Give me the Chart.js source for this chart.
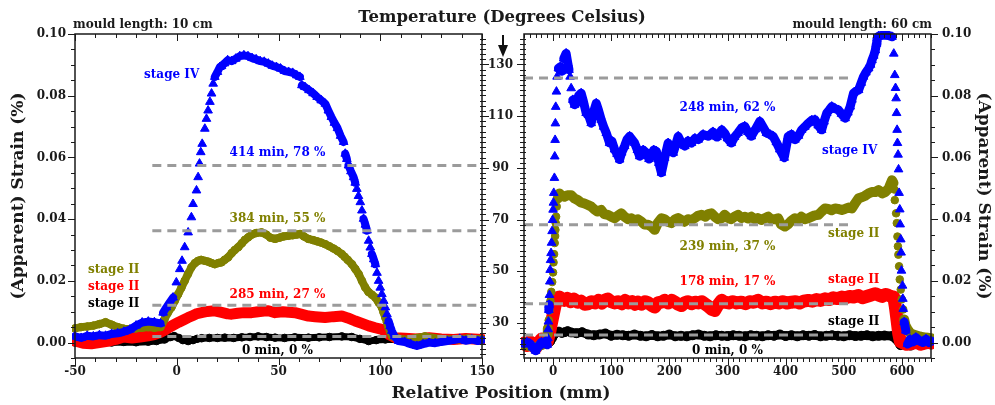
<!DOCTYPE html>
<html>
<head>
<meta charset="utf-8">
<script src="https://cdn.jsdelivr.net/npm/chart.js@4/dist/chart.umd.min.js"></script>
<style>
  body { margin: 0; background: #fff; }
  #wrap { position: relative; width: 995px; height: 405px; overflow: hidden; }
  canvas { position: absolute; top: 0; }
  .t { position: absolute; font-family: "DejaVu Serif", serif; font-weight: bold; color: #1a1a1a; white-space: nowrap; line-height: 1; }
</style>
</head>
<body>
<div id="wrap">
  <canvas id="left" width="524" height="405" style="left:0"></canvas>
  <canvas id="right" width="483" height="405" style="left:512px"></canvas>
  <div class="t" style="left:73px;top:24px;font-size:12px;transform:translateY(-50%)">mould length: 10 cm</div>
  <div class="t" style="left:932px;top:24px;font-size:12px;transform:translate(-100%,-50%)">mould length: 60 cm</div>
  <div class="t" style="left:502px;top:17px;font-size:16.5px;transform:translate(-50%,-50%)">Temperature (Degrees Celsius)</div>
  <div class="t" style="left:501px;top:392px;font-size:17px;transform:translate(-50%,-50%)">Relative Position (mm)</div>
  <div style="position:absolute;left:502px;top:35px;width:2px;height:11px;background:#111"></div>
  <div style="position:absolute;left:497.5px;top:45px;width:0;height:0;border-left:5.5px solid transparent;border-right:5.5px solid transparent;border-top:12px solid #111"></div>
</div>
<script>
// ---- left panel: mould 10 cm, position (mm) vs apparent strain (%)
const leftBlueX = [
  -50,-47,-44,-41,-38,-35,-32,-29,-26,-23,
  -20,-17,-14,-11,-8,-6.7,-5.1,-3.5,-1.8,-0.2,
  1.5,2.6,3.9,5.6,7.2,8.0,9.7,10.5,11.2,11.8,
  12.5,13.8,14.6,15.4,16.3,17.1,17.9,18.7,20.0,21.2,
  22.0,23.5,25,27,29,31,33,35,37,39,
  41,43,45,47,49,51,53,55,57,59,
  60.5,61.5,63,65,67,69,71,73,74.5,76,
  77.5,79,80.5,82,82.8,83.6,84.4,85.6,86.9,87.7,
  88.5,89.3,90.2,91.0,91.8,92.7,93.5,94.3,95.1,95.9,
  96.8,97.6,98.4,99.2,100.0,100.8,101.7,102.5,103.3,104.1,
  104.9,105.7,107,109,112,115,118,121,124,127,
  130,133,136,139,142,145,148,150];
const leftBlueY = [
  0.0020,0.0015,0.0022,0.0020,0.0024,0.0022,0.0028,0.0030,0.0035,0.0042,
  0.0055,0.0065,0.0068,0.0066,0.0062,0.0097,0.0114,0.0130,0.0146,0.0195,
  0.0238,0.0265,0.0309,0.0357,0.0406,0.0449,0.0493,0.0536,0.0580,0.0617,
  0.0644,0.0693,0.0725,0.0752,0.0780,0.0807,0.0839,0.0861,0.0877,0.0893,
  0.0896,0.0905,0.0915,0.0912,0.0920,0.0928,0.0931,0.0928,0.0922,0.0918,
  0.0912,0.0910,0.0904,0.0897,0.0893,0.0888,0.0880,0.0877,0.0874,0.0866,
  0.0861,0.0834,0.0828,0.0818,0.0808,0.0796,0.0785,0.0774,0.0752,0.0731,
  0.0712,0.0695,0.0670,0.0650,0.0612,0.0595,0.0574,0.0555,0.0536,0.0518,
  0.0498,0.0475,0.0455,0.0428,0.0401,0.0382,0.0363,0.0330,0.0308,0.0287,
  0.0270,0.0254,0.0226,0.0200,0.0178,0.0157,0.0135,0.0114,0.0092,0.0070,
  0.0053,0.0038,0.0020,0.0005,0.0002,-0.0005,-0.0011,-0.0005,0.0000,-0.0002,
  0.0002,0.0005,0.0008,0.0012,0.0006,0.0010,0.0005,0.0008];

const leftOliveX = [
  -50,-47,-44,-41,-38,-35,-32,-29,-26,-23,
  -20,-17,-14,-11,-8,-6,-4.5,-2.6,-1,0.7,
  2.3,3.9,5.5,7.2,9,10.5,12,13.8,15.5,17,
  18.7,20.5,22,23.5,25.2,27,28.5,30.2,32,33.5,
  35.1,37,39,41.7,44,46,48.3,50.5,52.5,54.8,
  57,59,60.6,62.5,64.7,67,69,71,72.9,75,
  77,79,81.1,82.5,84,86.1,87.8,89.4,91,92.6,
  94.2,95.9,97.6,99.2,100.8,101.6,102.5,103.3,104.1,104.9,
  105.7,108,111,114,118,122,126,130,134,138.7,
  143,148.4,150];
const leftOliveY = [
  0.0046,0.0050,0.0052,0.0055,0.0060,0.0066,0.0058,0.0050,0.0045,0.0044,
  0.0046,0.0048,0.0050,0.0048,0.0050,0.0076,0.0095,0.0114,0.0135,0.0157,
  0.0178,0.0200,0.0222,0.0244,0.0258,0.0265,0.0268,0.0265,0.0262,0.0258,
  0.0254,0.0258,0.0260,0.0268,0.0276,0.0290,0.0300,0.0309,0.0322,0.0333,
  0.0341,0.0350,0.0355,0.0357,0.0350,0.0340,0.0336,0.0340,0.0344,0.0346,
  0.0348,0.0350,0.0352,0.0344,0.0336,0.0332,0.0328,0.0324,0.0319,0.0312,
  0.0305,0.0297,0.0287,0.0278,0.0268,0.0254,0.0238,0.0222,0.0200,0.0179,
  0.0164,0.0155,0.0146,0.0130,0.0114,0.0098,0.0081,0.0065,0.0049,0.0035,
  0.0021,0.0015,0.0010,0.0011,0.0015,0.0020,0.0015,0.0012,0.0010,0.0011,
  0.0013,0.0011,0.0010];

const leftRedX = [
  -50,-46,-42,-38,-34,-30,-26,-22,-18,-14,
  -11,-8,-6,-3.5,-1.3,1,3.5,5.6,8,10,
  12.2,15,18.7,22,25,27,30,33,36.8,40,
  43,45,48.3,52,55,58.1,61,64.7,68,72.9,
  77,81.1,84,87.7,91,94.3,97.5,100.8,102.5,104.1,
  107.4,112,118,124,130,136,142,148,150];
const leftRedY = [
  0.0005,-0.0002,-0.0004,0.0000,0.0004,0.0010,0.0018,0.0015,0.0018,0.0022,
  0.0026,0.0033,0.0040,0.0050,0.0058,0.0066,0.0074,0.0081,0.0088,0.0094,
  0.0097,0.0101,0.0103,0.0098,0.0093,0.0092,0.0095,0.0097,0.0097,0.0100,
  0.0102,0.0103,0.0097,0.0100,0.0098,0.0097,0.0092,0.0086,0.0084,0.0081,
  0.0084,0.0086,0.0080,0.0070,0.0062,0.0054,0.0048,0.0043,0.0035,0.0027,
  0.0016,0.0014,0.0012,0.0016,0.0012,0.0010,0.0013,0.0011,0.0010];

const leftBlackX = [
  -50,-44,-38,-32,-26,-20,-14,-10,-6,-3,
  -1.3,1,3,5.6,8,10,12.2,16,20,23.6,
  28,32,36,40,44,48.3,53,58,64.7,70,
  75,81.1,86,90,94.3,98,102.5,108,114,120,
  126,132,138,144,150];
const leftBlackY = [
  0.0000,-0.0002,0.0001,0.0000,0.0002,0.0001,0.0003,0.0005,0.0010,0.0018,
  0.0021,0.0015,0.0008,0.0005,0.0008,0.0012,0.0014,0.0015,0.0015,0.0016,
  0.0015,0.0017,0.0018,0.0020,0.0018,0.0016,0.0015,0.0017,0.0016,0.0017,
  0.0018,0.0020,0.0018,0.0012,0.0005,0.0008,0.0010,0.0011,0.0010,0.0009,
  0.0011,0.0010,0.0009,0.0011,0.0010];

const leftDashLevels = [0.0574, 0.0362, 0.0121, 0.0020];
const leftDashFrom = -12, leftDashTo = 150;

// ---- right panel: mould 60 cm, position (mm) vs temperature (deg C)
const rightBlueX = [
  -50,-45,-40,-35,-30,-25,-20,-15,-12,-10,
  -9,-8.5,-8,-7.3,-6.8,-6.2,-5.6,-5,-4.3,-3.5,
  -2.6,-1.7,-0.8,0,0.6,1.2,2.3,2.9,3.5,4,
  4.6,5.8,6.9,9.2,12.6,15,18.4,22.4,25.4,27.4,
  29.3,31.1,34,37,39.7,44,48.3,52,56.9,61,
  65.6,70,74.2,78,82.8,87,91.5,97.2,101,105.8,
  110,114.5,118,123,127,131.7,136,140.3,145,148.9,
  155,160.5,165,169,173,177.7,182,186.4,192,197.9,
  202,206.6,211,215.2,220,226.6,232,238,244,249.7,
  258,267,275,282,290,295,300,306.6,312,318,
  324,329.6,335,341,348,355.5,361,367,373,378.5,
  384,390,397.5,404.4,410,416,422,427.5,433,439,
  445,450.5,456,462,466,470.7,475,479.3,485,490.8,
  496,502.3,507,511,514,516.8,521,525.4,530,534,
  538,542.7,546,548.5,551.5,554.2,556,557.1,560,565.8,
  571.5,577,583,586,587.7,589,590,590.8,591.7,592.3,
  593.4,594.2,595.1,596.3,597,598,598.6,599.2,601,601.6,
  602.2,603.9,606.8,609.7,614,619,624,630,636,641.3,
  647,650];
const rightBlueY = [
  22.0,22.5,22.0,20.5,19.2,21.0,22.5,22.0,23.0,21.5,
  24.0,27.5,30.5,35.0,37.0,40.8,46.0,50.5,54.3,57.0,
  61.0,65.5,69.8,73.8,76.5,80.3,86.1,94.4,100.8,107.2,
  113.6,119.5,125.3,128.5,129.1,127.4,132.3,134.3,130.4,127.9,
  125.3,120.8,116.3,114.4,115.0,117.9,118.9,115.9,111.2,110.4,
  107.3,111.9,115.0,112.4,108.6,105.9,103.5,99.6,100.4,97.1,
  95.4,93.2,95.9,98.4,100.9,102.2,100.9,99.6,96.9,94.5,
  96.9,95.8,93.4,94.5,96.9,96.4,91.9,88.1,93.9,99.6,
  97.9,95.8,98.9,102.2,99.9,98.4,100.4,99.6,101.4,100.9,
  102.9,102.2,103.9,101.9,104.7,103.5,101.4,99.6,101.9,103.5,
  105.4,106.1,103.9,102.2,104.9,108.0,105.9,103.5,102.9,102.2,
  99.9,97.1,93.9,102.2,102.9,100.9,102.4,104.7,105.9,107.3,
  108.4,108.6,106.4,104.7,107.9,111.2,112.4,113.7,112.9,112.4,
  110.9,109.2,111.4,113.7,116.4,118.9,119.7,120.1,122.9,125.3,
  126.9,128.5,129.9,131.7,133.4,135.5,137.9,140.0,141.0,141.3,
  141.3,141.2,140.7,134.2,125.9,120.9,116.9,111.2,104.7,99.6,
  95.1,89.4,80.3,73.9,68.1,62.3,57.2,50.2,44.4,39.3,
  35.4,30.3,27.0,21.8,23.6,22.6,24.3,23.1,22.4,23.7,
  22.4,23.0];

const rightOliveX = [
  -50,-40,-30,-20,-12,-10,-9,-7.5,-6,-4.5,
  -3,-1.5,0,0.8,1.7,2.8,3.5,4,4.6,5.2,
  6.3,8,10.9,15,19.5,25,31,37,42.6,48,
  54,60,65.6,70,76,82.8,88,94.3,100,105.8,
  111,117.3,123,129,134.6,140,146,151.8,157,163,
  169,174.8,180,186.4,192,197,203.6,210,215,220.9,
  226,232,238,244,249,255.4,262,267,272.6,278,
  284,290,295,301,306,312,318,324,330,335,
  341,347,352,358,364,370,375,381,387.2,392,
  398.7,404,410,416,422,427,433,439,445,450,
  456.2,462,467.7,473,479,485,490,496.5,502,508,
  513.8,519,525.4,531,536,542.7,548,554,560,566,
  571,577.2,580,583,585.5,587,587.7,590,591.2,592.3,
  593.1,593.9,595.1,596.3,598,599.7,602.2,603.9,606,609.7,
  614,618.3,625,632,641.3,650];
const rightOliveY = [
  21.5,21.0,20.5,21.5,22.0,25.5,27.8,31.0,34.8,38.5,
  42.0,45.8,49.5,53.4,56.6,60.9,63.6,66.0,68.6,71.1,
  75.0,78.1,80.1,79.1,78.8,79.4,79.4,78.1,77.5,76.6,
  76.2,75.6,75.0,74.1,73.1,73.7,72.1,71.8,71.1,70.5,
  71.4,72.4,71.1,70.1,70.5,69.6,70.1,69.2,68.1,68.0,
  67.3,66.0,68.6,70.5,70.1,69.1,68.6,70.1,70.6,69.8,
  69.1,70.1,69.8,70.6,71.4,71.8,71.1,72.1,72.4,71.1,
  70.1,70.5,71.8,70.6,70.1,71.1,71.8,70.6,71.1,70.4,
  71.1,70.1,70.6,69.8,70.5,71.1,70.1,70.1,70.5,68.1,
  67.3,68.1,69.6,70.5,70.1,71.1,70.1,70.5,71.1,71.6,
  71.8,73.1,74.3,74.1,73.6,74.3,74.1,73.7,74.1,74.6,
  74.3,76.1,78.2,78.6,79.1,80.1,80.6,80.6,81.4,80.1,
  80.6,82.0,83.6,85.2,84.1,81.6,77.5,72.4,68.6,63.4,
  59.6,56.4,51.9,46.8,42.9,39.1,35.2,31.3,29.1,27.5,
  26.1,25.6,25.1,24.6,24.3,24.1];

const rightRedX = [
  -50,-45,-40,-35,-30,-25,-20,-15,-10,-6.3,
  -3.5,-0.6,2.5,5.2,8,10.9,15,19.5,25,30,
  36,42,48,54,59.8,66,72,78,84,88.6,
  94,100,106,112,118,124,130,136,141,146,
  152,158,164,170,174.8,180,186,192,198,204,
  210,215,220.9,226,232,238,244,250,256,262,
  268,273,278,283,290,295,302,309,316,323.8,
  331,338,345,352.6,360,367,374,381.4,388,395,
  402,410.1,417,424,431,439,446,453,460,467.7,
  475,482,489,496.5,503,510,517,525.4,532,539,
  546,554.2,560,566,572,577.2,582,585.9,588.8,591.7,
  594.5,597.4,602,608,617.5,625,632,640,647,650];
const rightRedY = [
  22.2,21.2,22.7,21.7,20.2,22.2,23.7,23.2,22.7,25.9,
  29.2,32.3,35.7,38.7,39.7,40.0,39.2,38.7,39.5,38.2,
  39.2,38.0,38.4,37.2,37.4,38.2,37.7,38.7,37.7,38.7,
  39.2,38.2,37.7,38.2,37.4,38.7,37.7,38.2,37.2,38.0,
  37.2,38.2,37.7,36.7,36.1,37.7,38.0,38.7,37.7,38.7,
  38.0,37.2,36.7,37.7,38.2,37.4,38.0,37.7,38.2,37.2,
  36.2,35.2,34.8,36.7,38.7,38.0,37.7,38.2,37.7,38.0,
  37.4,38.2,38.0,38.7,37.7,38.0,37.4,38.0,37.7,38.2,
  37.7,38.0,38.2,37.7,38.4,38.7,38.4,39.0,38.7,39.3,
  39.0,39.7,39.4,40.0,39.7,40.2,40.0,40.6,39.7,40.2,
  40.7,41.3,40.7,40.2,41.0,40.6,40.2,40.0,36.1,30.9,
  25.8,22.7,22.2,21.7,22.0,22.7,21.7,22.2,22.7,22.2];

const rightBlackX = [
  -50,-40,-30,-20,-10,-5,-2,2,6,10,
  15,20,25,31,40,50,60,70,80,90,
  100,110,120,130,140,150,160,170,180,190,
  200,210,220,230,240,250,260,270,280,290,
  300,310,320,330,340,350,360,370,380,390,
  400,410,420,430,440,450,460,470,480,490,
  500,510,520,530,540,550,560,570,583,591.7,
  597.4,605,615,625,635,645,650];
const rightBlackY = [
  21.5,21.2,20.8,21.5,22.0,22.8,24.0,25.5,26.4,26.6,
  26.1,26.4,26.8,26.3,26.0,26.4,25.5,25.2,25.5,25.9,
  25.0,25.4,25.2,25.0,25.5,25.0,24.8,25.3,24.8,25.0,
  25.5,24.8,25.0,24.8,25.2,25.5,25.0,24.8,25.2,25.0,
  24.9,25.2,25.0,24.8,25.2,25.0,24.8,25.2,25.0,25.5,
  24.9,25.2,24.8,25.2,25.0,25.3,24.8,25.0,25.2,25.0,
  24.8,25.2,24.9,25.0,25.2,24.8,25.0,25.1,24.9,23.3,
  21.4,21.7,21.2,22.0,21.5,21.8,21.7];

const rightDashLevels = [124.8, 68.0, 37.4, 25.3];
const rightDashFrom = -50, rightDashTo = 515;

// axes
const leftXTicks = [-50, 0, 50, 100, 150];
const rightXTicks = [0, 100, 200, 300, 400, 500, 600];
const strainTicks = [0, 0.02, 0.04, 0.06, 0.08, 0.10];
const tempTicks = [30, 50, 70, 90, 110, 130];
const strainRange = [-0.005, 0.10];
const tempRange = [16.4, 141.8];

const BLUE = "#0000ff", OLIVE = "#808000", RED = "#ff0000", BLACK = "#000000";
const INK = "#1a1a1a", DASH = "#9b9b9b";

const leftNotes = [
  { text: "stage IV", x: -2.5, y: 0.0868, color: BLUE },
  { text: "414 min, 78 %", x: 49.5, y: 0.0615, color: BLUE },
  { text: "384 min, 55 %", x: 49.5, y: 0.0401, color: OLIVE },
  { text: "285 min, 27 %", x: 49.5, y: 0.0154, color: RED },
  { text: "0 min, 0 %", x: 49.5, y: -0.0027, color: BLACK },
  { text: "stage II", x: -31, y: 0.0235, color: OLIVE },
  { text: "stage II", x: -31, y: 0.0181, color: RED },
  { text: "stage II", x: -31, y: 0.0124, color: BLACK }
];
const rightNotes = [
  { text: "248 min, 62 %", x: 300, y: 113.4, color: BLUE },
  { text: "stage IV", x: 510, y: 96.4, color: BLUE },
  { text: "239 min, 37 %", x: 300, y: 59.4, color: OLIVE },
  { text: "stage II", x: 517, y: 64.4, color: OLIVE },
  { text: "178 min, 17 %", x: 300, y: 45.8, color: RED },
  { text: "stage II", x: 517, y: 46.7, color: RED },
  { text: "stage II", x: 517, y: 30.2, color: BLACK },
  { text: "0 min, 0 %", x: 300, y: 19.2, color: BLACK }
];

Chart.defaults.font.family = "'DejaVu Serif', serif";
Chart.defaults.font.weight = "bold";
Chart.defaults.color = INK;

const pts = (xs, ys) => xs.map((x, i) => ({ x, y: ys[i] }));

// steep stretches are drawn as separate markers, flat ones as a dense band
const bandColor = (color, slope) => ctx => {
  const dx = Math.abs(ctx.p1.x - ctx.p0.x), dy = Math.abs(ctx.p1.y - ctx.p0.y);
  return dy > 6 && dy > slope * dx ? "rgba(0,0,0,0)" : color;
};

const series = (xs, ys, color, shape, radius, width, slope, order, yAxisID) => ({
  data: pts(xs, ys), yAxisID, order,
  borderColor: color, backgroundColor: color, borderWidth: width,
  borderJoinStyle: "round", borderCapStyle: "round",
  pointStyle: shape, pointRadius: radius, pointBorderWidth: 1, pointBorderColor: color,
  pointBackgroundColor: color,
  segment: { borderColor: bandColor(color, slope) },
  clip: 3
});

const dashes = (levels, from, to, yAxisID) => levels.map(v => ({
  data: [{ x: from, y: v }, { x: to, y: v }], yAxisID, order: 0,
  borderColor: DASH, borderWidth: 3, borderDash: [9, 6], pointRadius: 0
}));

const fitBox = size => s => {
  if (s.isHorizontal()) s.height = size; else s.width = size;
  s.paddingTop = s.paddingBottom = s.paddingLeft = s.paddingRight = 0;
};
const setTicks = values => s => { s.ticks = values.map(value => ({ value })); };

const tickFont = { size: 12, weight: "bold" };
const titleFont = { size: 17, weight: "bold" };
const noGrid = { display: false, drawTicks: false };

const tickMarks = {
  id: "tickMarks",
  afterDatasetsDraw(chart, args, opts) {
    const { ctx, chartArea: a } = chart;
    ctx.save();
    ctx.strokeStyle = INK;
    ctx.lineWidth = 1;
    ctx.beginPath();
    for (const t of opts.specs) {
      const s = chart.scales[t.scale];
      const first = Math.ceil((s.min - 1e-9) / t.minor), last = Math.floor((s.max + 1e-9) / t.minor);
      for (let k = first; k <= last; k++) {
        const v = k * t.minor;
        const q = (v - t.base) / t.major;
        const len = Math.abs(q - Math.round(q)) < 1e-6 ? 7 : 4;
        const p = Math.round(s.getPixelForValue(v)) + 0.5;
        const inner = t.mode === "cross" ? 2 : t.mode === "in" ? len : 0;
        const outer = t.mode === "in" ? 0 : len;
        if (t.edge === "bottom") { ctx.moveTo(p, a.bottom - inner); ctx.lineTo(p, a.bottom + outer); }
        if (t.edge === "top") { ctx.moveTo(p, a.top + inner); ctx.lineTo(p, a.top - outer); }
        if (t.edge === "left") { ctx.moveTo(a.left + inner, p); ctx.lineTo(a.left - outer, p); }
        if (t.edge === "right") { ctx.moveTo(a.right - inner, p); ctx.lineTo(a.right + outer, p); }
      }
    }
    ctx.stroke();
    ctx.lineWidth = 1.5;
    ctx.strokeRect(a.left, a.top, a.right - a.left, a.bottom - a.top);
    ctx.restore();
  }
};

const notes = {
  id: "notes",
  afterDraw(chart, args, opts) {
    const { ctx } = chart;
    const xs = chart.scales.x, ys = chart.scales[opts.yAxis];
    ctx.save();
    ctx.font = "bold 12px 'DejaVu Serif'";
    ctx.textAlign = "center";
    ctx.textBaseline = "middle";
    opts.items.forEach(n => {
      ctx.fillStyle = n.color;
      ctx.fillText(n.text, xs.getPixelForValue(n.x), ys.getPixelForValue(n.y));
    });
    ctx.restore();
  }
};

const baseOptions = {
  responsive: false,
  animation: false,
  events: [],
  layout: { padding: { top: 34, left: 0, right: 0, bottom: 0 } },
  plugins: { legend: { display: false }, tooltip: { enabled: false } }
};

new Chart(document.getElementById("left"), {
  type: "line",
  data: {
    datasets: [
      ...dashes(leftDashLevels, leftDashFrom, leftDashTo, "y"),
      series(leftBlueX, leftBlueY, BLUE, "triangle", 5, 8, 3, 1, "y"),
      series(leftOliveX, leftOliveY, OLIVE, "circle", 3.8, 8, 3, 2, "y"),
      series(leftRedX, leftRedY, RED, "rect", 4.5, 11, 1e9, 3, "y"),
      series(leftBlackX, leftBlackY, BLACK, "circle", 3.8, 7, 1e9, 4, "y")
    ]
  },
  options: {
    ...baseOptions,
    scales: {
      x: {
        type: "linear", position: "bottom", min: -50, max: 150,
        grid: noGrid, border: { display: false },
        ticks: { font: tickFont, padding: 7, autoSkip: false, maxRotation: 0 },
        afterBuildTicks: setTicks(leftXTicks), afterFit: fitBox(47)
      },
      y: {
        type: "linear", position: "left", min: strainRange[0], max: strainRange[1],
        grid: noGrid, border: { display: false },
        ticks: { font: tickFont, padding: 9, autoSkip: false, callback: v => v.toFixed(2) },
        title: { display: true, text: "(Apparent) Strain (%)", font: titleFont, padding: { top: 8, bottom: 0 } },
        afterBuildTicks: setTicks(strainTicks), afterFit: fitBox(75)
      },
      yT: {
        type: "linear", position: "right", min: tempRange[0], max: tempRange[1],
        grid: noGrid, border: { display: false },
        ticks: { font: tickFont, padding: 6, autoSkip: false, crossAlign: "center" },
        afterBuildTicks: setTicks(tempTicks), afterFit: fitBox(42)
      }
    },
    plugins: {
      ...baseOptions.plugins,
      tickMarks: { specs: [
        { scale: "x", edge: "bottom", minor: 10, major: 50, base: 0, mode: "out" },
        { scale: "x", edge: "top", minor: 10, major: 50, base: 0, mode: "in" },
        { scale: "y", edge: "left", minor: 0.005, major: 0.02, base: 0, mode: "out" },
        { scale: "yT", edge: "right", minor: 2, major: 20, base: 10, mode: "cross" }
      ] },
      notes: { yAxis: "y", items: leftNotes }
    }
  },
  plugins: [tickMarks, notes]
});

new Chart(document.getElementById("right"), {
  type: "line",
  data: {
    datasets: [
      ...dashes(rightDashLevels, rightDashFrom, rightDashTo, "yT"),
      series(rightBlueX, rightBlueY, BLUE, "triangle", 5, 9, 6, 1, "yT"),
      series(rightOliveX, rightOliveY, OLIVE, "circle", 3.8, 10, 6, 2, "yT"),
      series(rightRedX, rightRedY, RED, "rect", 5, 13, 1e9, 3, "yT"),
      series(rightBlackX, rightBlackY, BLACK, "circle", 4.5, 9, 1e9, 4, "yT")
    ]
  },
  options: {
    ...baseOptions,
    scales: {
      x: {
        type: "linear", position: "bottom", min: -50, max: 650,
        grid: noGrid, border: { display: false },
        ticks: { font: tickFont, padding: 7, autoSkip: false, maxRotation: 0 },
        afterBuildTicks: setTicks(rightXTicks), afterFit: fitBox(47)
      },
      yT: {
        type: "linear", position: "left", min: tempRange[0], max: tempRange[1],
        grid: noGrid, border: { display: false },
        ticks: { display: false },
        afterBuildTicks: setTicks(tempTicks), afterFit: fitBox(12)
      },
      yS: {
        type: "linear", position: "right", min: strainRange[0], max: strainRange[1],
        grid: noGrid, border: { display: false },
        ticks: { font: tickFont, padding: 11, autoSkip: false, callback: v => v.toFixed(2) },
        title: { display: true, text: "(Apparent) Strain (%)", font: titleFont, padding: { top: 1, bottom: 0 } },
        afterBuildTicks: setTicks(strainTicks), afterFit: fitBox(64)
      }
    },
    plugins: {
      ...baseOptions.plugins,
      tickMarks: { specs: [
        { scale: "x", edge: "bottom", minor: 10, major: 100, base: 0, mode: "out" },
        { scale: "x", edge: "top", minor: 10, major: 100, base: 0, mode: "in" },
        { scale: "yT", edge: "left", minor: 2, major: 20, base: 10, mode: "cross" },
        { scale: "yS", edge: "right", minor: 0.005, major: 0.02, base: 0, mode: "out" }
      ] },
      notes: { yAxis: "yT", items: rightNotes }
    }
  },
  plugins: [tickMarks, notes]
});
</script>
</body>
</html>
